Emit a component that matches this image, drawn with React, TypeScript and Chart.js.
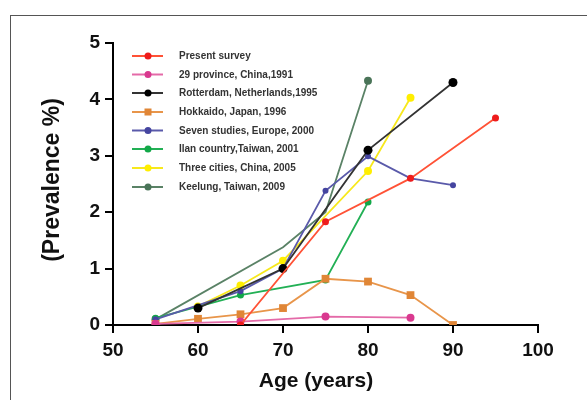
import React, { useEffect, useRef } from 'react';
import { Chart, registerables } from 'chart.js';
Chart.register(...registerables);

const FONT = 'Arial, "Liberation Sans", Helvetica, sans-serif';

const xTicks = [50, 60, 70, 80, 90, 100];
const yTicks = [0, 1, 2, 3, 4, 5];

const seriesLabels = [
  'Present survey',
  '29 province, China,1991',
  'Rotterdam, Netherlands,1995',
  'Hokkaido, Japan, 1996',
  'Seven studies, Europe, 2000',
  'Ilan country,Taiwan, 2001',
  'Three cities, China, 2005',
  'Keelung, Taiwan, 2009',
];

const presentAges = [65, 75, 85, 95];
const presentVals = [0.0, 1.83, 2.6, 3.67];

const chinaAges = [55, 65, 75, 85];
const chinaVals = [0.02, 0.06, 0.15, 0.13];

const rotterdamAges = [60, 70, 80, 90];
const rotterdamVals = [0.3, 1.0, 3.1, 4.3];

const hokkaidoAges = [55, 60, 65, 70, 75, 80, 85, 90];
const hokkaidoVals = [0.02, 0.11, 0.19, 0.3, 0.82, 0.77, 0.53, 0.0];

const europeAges = [55, 65, 70, 75, 80, 85, 90];
const europeVals = [0.1, 0.6, 1.0, 2.38, 2.99, 2.6, 2.48];

const ilanAges = [55, 65, 75, 80];
const ilanVals = [0.12, 0.53, 0.8, 2.18];

const threeCitiesAges = [60, 65, 70, 80, 85];
const threeCitiesVals = [0.33, 0.7, 1.14, 2.73, 4.03];

const keelungAges = [55, 70, 75, 80];
const keelungVals = [0.1, 1.38, 2.0, 4.33];

const seriesAges = [presentAges, chinaAges, rotterdamAges, hokkaidoAges, europeAges, ilanAges, threeCitiesAges, keelungAges];
const seriesVals = [presentVals, chinaVals, rotterdamVals, hokkaidoVals, europeVals, ilanVals, threeCitiesVals, keelungVals];

const lineColors = ['#ff5236', '#e46aa8', '#333333', '#e8954a', '#5a5aaa', '#22b055', '#f7e81c', '#5a8266'];
const pointColors = ['#ee1c1c', '#d9398f', '#000000', '#e08636', '#4545a0', '#12a848', '#ffee00', '#4a7458'];
const pointStyles = ['circle', 'circle', 'circle', 'rect', 'circle', 'circle', 'circle', 'circle'];
const pointRadii = [3.5, 4, 4.5, 5.5, 3, 3.5, 4, 4];

const extras = {
  id: 'extras',
  afterDraw(chart: any) {
    const ctx = chart.ctx;
    ctx.save();
    ctx.fillStyle = '#111';
    ctx.font = `bold 21px ${FONT}`;
    ctx.textAlign = 'center';
    ctx.textBaseline = 'middle';
    ctx.fillText('Age (years)', 316, 381);
    ctx.save();
    ctx.translate(53, 180);
    ctx.rotate(-Math.PI / 2);
    ctx.font = `bold 23px ${FONT}`;
    ctx.fillText('(Prevalence %)', 0, 0);
    ctx.restore();
    const rows = [56, 74.5, 93, 112, 130.5, 149, 168, 187];
    chart.data.datasets.forEach((ds: any, i: number) => {
      const y = rows[i];
      ctx.strokeStyle = lineColors[i];
      ctx.lineWidth = 2;
      ctx.beginPath();
      ctx.moveTo(132, y);
      ctx.lineTo(163, y);
      ctx.stroke();
      ctx.fillStyle = pointColors[i];
      if (pointStyles[i] === 'rect') {
        ctx.fillRect(148 - 3.5, y - 3.5, 7, 7);
      } else {
        ctx.beginPath();
        ctx.arc(148, y, 3.5, 0, Math.PI * 2);
        ctx.fill();
      }
      ctx.fillStyle = '#333';
      ctx.font = `bold 10px ${FONT}`;
      ctx.textAlign = 'left';
      ctx.textBaseline = 'middle';
      ctx.fillText(ds.label, 179, y + 0.5);
    });
    ctx.restore();
  },
};

export default function App() {
  const ref = useRef<HTMLCanvasElement>(null);
  useEffect(() => {
    if (!ref.current) return;
    const datasets = seriesLabels.map((label, i) => ({
      label,
      data: seriesAges[i].map((a, j) => ({ x: a, y: seriesVals[i][j] })),
      borderColor: lineColors[i],
      backgroundColor: pointColors[i],
      pointBackgroundColor: pointColors[i],
      pointBorderColor: pointColors[i],
      pointBorderWidth: 0,
      pointStyle: pointStyles[i],
      pointRadius: i === 7
        ? seriesAges[i].map((_, j) => (j === 0 || j === seriesAges[i].length - 1 ? pointRadii[i] : 0))
        : pointRadii[i],
      borderWidth: 1.8,
      tension: 0,
      fill: false,
    }));
    const tickFont = { family: FONT, size: 19, weight: 'bold' as const };
    const chart = new Chart(ref.current, {
      type: 'line',
      data: { datasets },
      options: {
        responsive: false,
        animation: false,
        layout: { padding: { top: 43, right: 49, bottom: 0, left: 0 } },
        plugins: { legend: { display: false }, tooltip: { enabled: false } },
        scales: {
          x: {
            type: 'linear',
            min: 50,
            max: 100,
            afterFit: (s: any) => { s.height = 75; },
            afterBuildTicks: (s: any) => { s.ticks = xTicks.map((v) => ({ value: v })); },
            grid: { display: true, drawOnChartArea: false, drawTicks: true, tickLength: 8, color: '#000', lineWidth: 2 },
            border: { display: true, color: '#000', width: 2 },
            ticks: { color: '#111', font: tickFont, padding: 6 },
          },
          y: {
            type: 'linear',
            min: 0,
            max: 5,
            afterFit: (s: any) => { s.width = 113; },
            afterBuildTicks: (s: any) => { s.ticks = yTicks.map((v) => ({ value: v })); },
            grid: { display: true, drawOnChartArea: false, drawTicks: true, tickLength: 8, color: '#000', lineWidth: 2 },
            border: { display: true, color: '#000', width: 2 },
            ticks: { color: '#111', font: tickFont, padding: 5 },
          },
        },
      },
      plugins: [extras],
    });
    return () => chart.destroy();
  }, []);
  return (
    <div style={{ position: 'fixed', left: 0, top: 0, width: 587, height: 400, background: '#fff', overflow: 'hidden' }}>
      <div style={{ position: 'absolute', left: 10, top: 15, width: 620, height: 420, borderLeft: '1.5px solid #555', borderTop: '1.5px solid #555' }} />
      <canvas ref={ref} width={587} height={400} style={{ position: 'absolute', left: 0, top: 0, width: 587, height: 400 }} />
    </div>
  );
}
